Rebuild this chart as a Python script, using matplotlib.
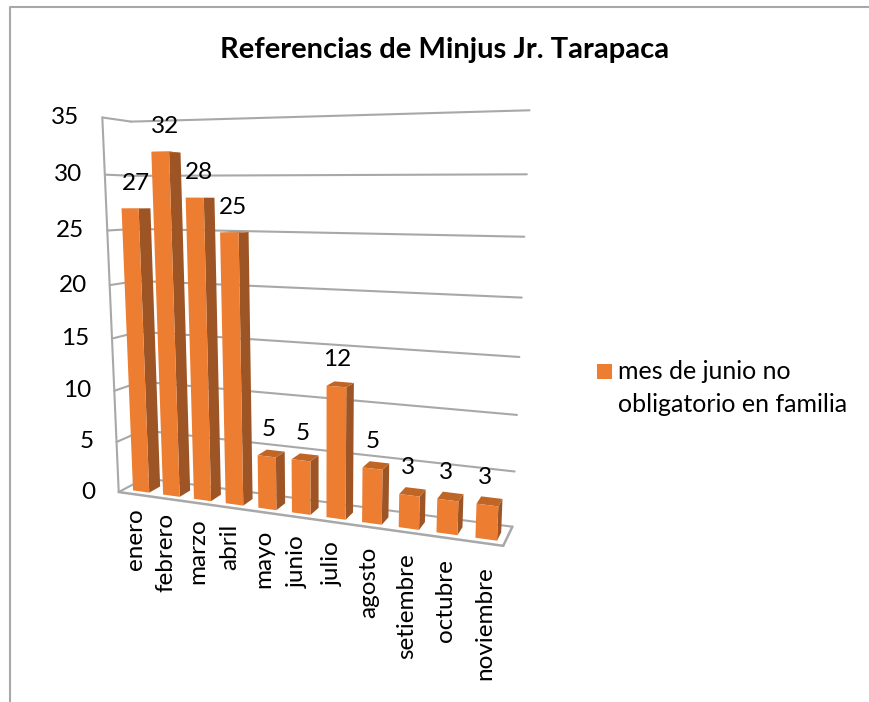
import numpy as np
import matplotlib.pyplot as plt
from matplotlib.patches import Polygon, Rectangle

plt.rcParams['font.family'] = ['Lato', 'DejaVu Sans']

meses = ["enero", "febrero", "marzo", "abril", "mayo", "junio", "julio",
         "agosto", "setiembre", "octubre", "noviembre"]
valores = [27, 32, 28, 25, 5, 5, 12, 5, 3, 3, 3]
ticks = [0, 5, 10, 15, 20, 25, 30, 35]
titulo = "Referencias de Minjus Jr. Tarapaca"
leyenda = "mes de junio no\nobligatorio en familia"

NARANJA = "#ED7D31"
LADO = "#9E5526"
TAPA = "#BF6526"
GRIS = "#A8A8A8"

# Excel 3D view: fit a camera matrix on the wall corners
# (categoria, valor, profundidad) -> pixel
n = len(meses)
calib_mundo = [(0, 35, 0), (0, 30, 0), (0, 25, 0), (0, 20, 0), (0, 10, 0), (0, 5, 0), (0, 0, 0),
               (0, 35, 1), (0, 0, 1),
               (n, 35, 1), (n, 30, 1), (n, 25, 1), (n, 20, 1), (n, 15, 1), (n, 10, 1), (n, 5, 1), (n, 0, 1),
               (n, 0, 0)]
calib_px = [(101.7, 118), (103.5, 175), (108, 230.7), (110, 286), (115, 390), (116.7, 440), (118, 492),
            (131.7, 120.7), (145, 480),
            (530, 110.5), (527, 174.5), (524, 237), (522, 297.5), (519, 356.7), (517, 414), (514, 471), (512, 526.7),
            (504, 547)]

A = []
b = []
for (u, v, w), (px, py) in zip(calib_mundo, calib_px):
    A.append([u, v, w, 1, 0, 0, 0, 0, -px * u, -px * v, -px * w])
    b.append(px)
    A.append([0, 0, 0, 0, u, v, w, 1, -py * u, -py * v, -py * w])
    b.append(py)
P = np.linalg.lstsq(np.array(A, dtype=float), np.array(b, dtype=float), rcond=None)[0]
P = np.append(P, 1).reshape(3, 4)


def proj(u, v, w):
    p = P @ np.array([u, v, w, 1.0])
    return p[0] / p[2], p[1] / p[2]


fig = plt.figure(figsize=(8.69, 7.02), dpi=100)
ax = fig.add_axes([0, 0, 1, 1])
ax.set_xlim(0, 869)
ax.set_ylim(702, 0)
ax.axis('off')

# marco del grafico
ax.plot([10, 10, 869], [702, 6.5, 6.5], color=GRIS, lw=1.5)


def linea(a, b, lw=1.5):
    ax.plot([a[0], b[0]], [a[1], b[1]], color=GRIS, lw=lw, solid_capstyle='round', zorder=1)


# paredes y lineas de division
for t in ticks:
    linea(proj(0, t, 0), proj(0, t, 1))
    linea(proj(0, t, 1), proj(n, t, 1))
linea(proj(0, 0, 0), proj(0, 35, 0))
linea(proj(0, 0, 0), proj(n, 0, 0), 1.8)
linea(proj(n, 0, 0), proj(n, 0, 1), 1.8)

for t in ticks:
    x, y = proj(0, t, 0)
    ax.text(x - 23, y, str(t), ha='right', va='center', fontsize=17.5, color='black')

# barras
ancho = 0.27
w0, w1 = 0.2, 0.63
for i, (mes, val) in enumerate(zip(meses, valores)):
    centro = i + 0.57 - 0.004 * i
    u0 = centro - ancho
    u1 = centro + ancho
    lado = [proj(u1, 0, w0), proj(u1, 0, w1), proj(u1, val, w1), proj(u1, val, w0)]
    tapa = [proj(u0, val, w0), proj(u1, val, w0), proj(u1, val, w1), proj(u0, val, w1)]
    frente = [proj(u0, 0, w0), proj(u1, 0, w0), proj(u1, val, w0), proj(u0, val, w0)]
    ax.add_patch(Polygon(lado, closed=True, fc=LADO, ec='none', zorder=2 + i))
    ax.add_patch(Polygon(tapa, closed=True, fc=TAPA, ec='none', zorder=2 + i))
    ax.add_patch(Polygon(frente, closed=True, fc=NARANJA, ec='none', zorder=2 + i))

    # etiqueta de valor
    x, y = proj(i + 0.5, val, 0.62)
    ax.text(x - 4 - 0.2 * i, y - 20 - 0.18 * val, str(val), ha='center', va='center', fontsize=17.5, zorder=20)

    # etiqueta de categoria
    x, y = proj(i + 0.5, 0, 0)
    ax.text(x + 2, y + 14 + 0.9 * i, mes, rotation=90, ha='center', va='top', fontsize=17.5, zorder=20)

ax.text(445, 50, titulo, ha='center', va='center', fontsize=21, fontweight='bold')

ax.add_patch(Rectangle((597, 364), 15, 15, fc=NARANJA, ec='none'))
ax.text(618, 388, leyenda, ha='left', va='center', fontsize=18, linespacing=1.55)

fig.savefig('out.png', dpi=100)
